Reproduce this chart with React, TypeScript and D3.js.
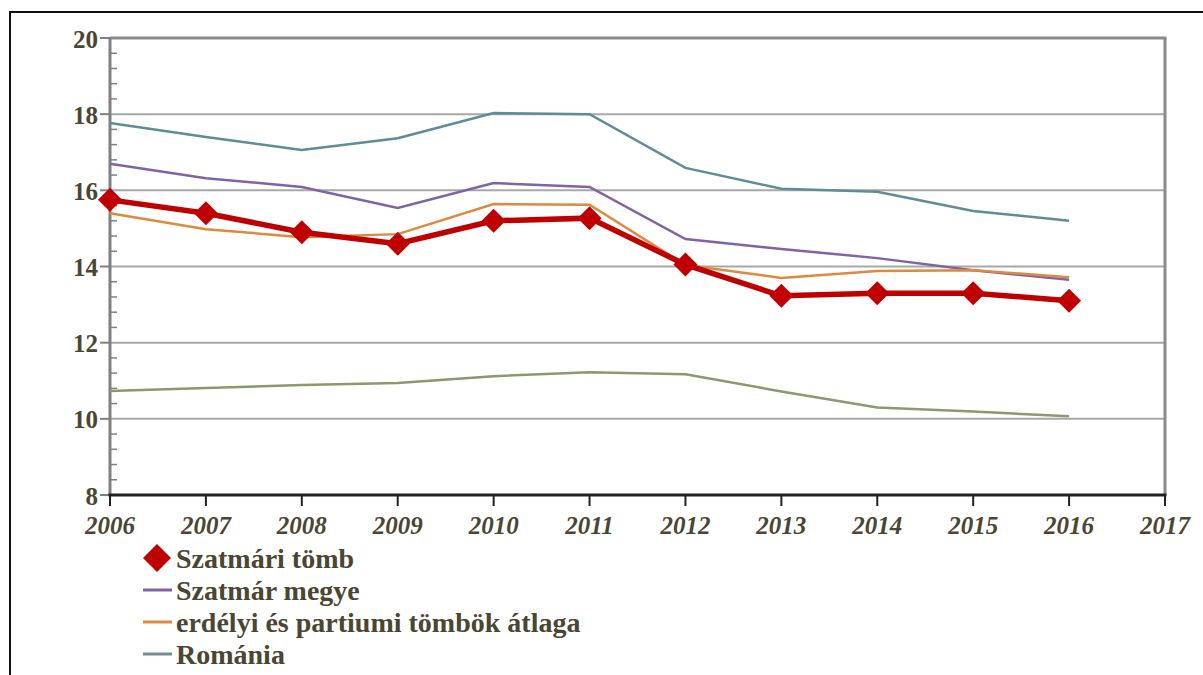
import React from "react";
import * as d3 from "d3";

const years = [2006, 2007, 2008, 2009, 2010, 2011, 2012, 2013, 2014, 2015, 2016];
const szatmariTomb = [15.75, 15.4, 14.9, 14.6, 15.2, 15.27, 14.05, 13.23, 13.3, 13.3, 13.1];
const szatmarMegye = [16.7, 16.32, 16.09, 15.54, 16.19, 16.09, 14.72, 14.46, 14.22, 13.9, 13.65];
const erdelyiAtlag = [15.4, 14.98, 14.77, 14.85, 15.64, 15.62, 14.04, 13.7, 13.88, 13.9, 13.72];
const romania = [17.77, 17.4, 17.06, 17.37, 18.03, 18.0, 16.59, 16.04, 15.96, 15.46, 15.2];
const magyarorszag = [10.73, 10.81, 10.89, 10.94, 11.12, 11.22, 11.17, 10.72, 10.3, 10.19, 10.07];
const xTicks = [2006, 2007, 2008, 2009, 2010, 2011, 2012, 2013, 2014, 2015, 2016, 2017];
const yTicks = [8, 10, 12, 14, 16, 18, 20];

const seriesNames = [
  "Szatmári tömb",
  "Szatmár megye",
  "erdélyi és partiumi tömbök átlaga",
  "Románia",
  "Magyarország",
];

const TEXT = "#4b4631";

export default function App() {
  const left = 110, right = 1165, top = 38, bottom = 495;
  const x = d3.scaleLinear().domain([2006, 2017]).range([left, right]);
  const y = d3.scaleLinear().domain([8, 20]).range([bottom, top]);
  const line = d3
    .line<number>()
    .x((_, i) => x(years[i]))
    .y((d) => y(d));

  const minor = d3.range(8, 20.001, 0.4).filter((v) => Math.abs(v / 2 - Math.round(v / 2)) > 0.01);

  const thin = [
    { data: magyarorszag, color: "#8a9a6a" },
    { data: romania, color: "#5e8c98" },
    { data: szatmarMegye, color: "#8062a6" },
    { data: erdelyiAtlag, color: "#de8a3e" },
  ];

  const diamond = (cx: number, cy: number, r: number) =>
    `M${cx},${cy - r}L${cx + r},${cy}L${cx},${cy + r}L${cx - r},${cy}Z`;

  const legendColors = ["#c00000", "#8062a6", "#de8a3e", "#6f8f98", "#8a9a6a"];

  return (
    <div style={{ position: "absolute", left: 0, top: 0 }}>
      <svg width={1203} height={675} style={{ display: "block", background: "#fff" }}>
        <rect x={10} y={12} width={1210} height={700} fill="#fff" stroke="#111" strokeWidth={2} />
        {yTicks.filter((t) => t > 8 && t < 20).map((t) => (
          <line key={t} x1={left} x2={right} y1={y(t)} y2={y(t)} stroke="#a8a8a8" strokeWidth={2} />
        ))}
        <line x1={left} x2={right + 1.5} y1={top} y2={top} stroke="#8a8a8a" strokeWidth={3} />
        <line x1={right} x2={right} y1={top} y2={bottom} stroke="#8a8a8a" strokeWidth={3} />
        <line x1={left} x2={left} y1={top} y2={bottom} stroke="#808080" strokeWidth={3} />
        {yTicks.map((t) => (
          <g key={t}>
            <line x1={left - 10} x2={left} y1={y(t)} y2={y(t)} stroke="#808080" strokeWidth={2} />
            <text
              x={left - 12}
              y={y(t) + 9.5}
              textAnchor="end"
              fontFamily="Liberation Serif"
              fontWeight="bold"
              fontSize="25px"
              fill={TEXT}
            >
              {t}
            </text>
          </g>
        ))}
        {minor.map((t, i) => (
          <line key={i} x1={left} x2={left + 7} y1={y(t)} y2={y(t)} stroke="#808080" strokeWidth={1.5} />
        ))}
        <line x1={left - 1.5} x2={right + 1.5} y1={bottom} y2={bottom} stroke="#222" strokeWidth={3} />
        {xTicks.map((t) => (
          <g key={t}>
            <line x1={x(t)} x2={x(t)} y1={bottom} y2={bottom + 11} stroke="#222" strokeWidth={2} />
            <text
              x={x(t)}
              y={534}
              textAnchor="middle"
              fontFamily="Liberation Serif"
              fontWeight="bold"
              fontStyle="italic"
              fontSize="25px"
              fill={TEXT}
            >
              {t}
            </text>
          </g>
        ))}
        {thin.map((s, i) => (
          <path key={i} d={line(s.data) || ""} fill="none" stroke={s.color} strokeWidth={2.5} />
        ))}
        <path d={line(szatmariTomb) || ""} fill="none" stroke="#c00000" strokeWidth={5.5} />
        {szatmariTomb.map((v, i) => (
          <path key={i} d={diamond(x(years[i]), y(v), 12)} fill="#c00000" />
        ))}
        {seriesNames.map((n, i) => {
          const base = 568 + i * 32;
          const ly = base - 10;
          return (
            <g key={n}>
              {i === 0 ? (
                <path d={diamond(157, ly, 14)} fill={legendColors[i]} />
              ) : (
                <line x1={143} x2={172} y1={ly} y2={ly} stroke={legendColors[i]} strokeWidth={3} />
              )}
              <text
                x={176}
                y={base}
                fontFamily="Liberation Serif"
                fontWeight="bold"
                fontSize="28px"
                fill={TEXT}
              >
                {n}
              </text>
            </g>
          );
        })}
      </svg>
    </div>
  );
}
